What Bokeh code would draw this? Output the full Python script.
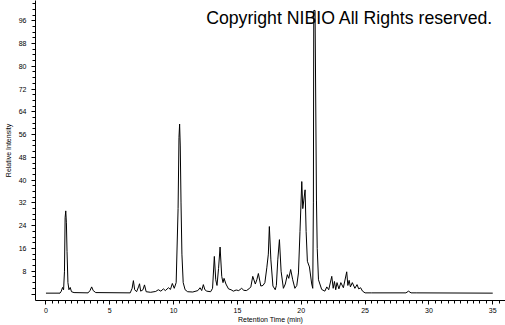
from bokeh.plotting import figure
from bokeh.models import Range1d, FixedTicker, Label, ColumnDataSource
from bokeh.embed import file_html
from bokeh.resources import INLINE

# Chromatogram trace: retention time (min) and relative intensity
time_min = [0.0, 1.1, 1.2, 1.3, 1.38, 1.45, 1.5, 1.55, 1.6, 1.65, 1.72, 1.8, 1.9, 2.0, 2.2,
            3.3, 3.45, 3.58, 3.7, 3.9, 6.6, 6.75, 6.85, 6.95, 7.1, 7.25, 7.33, 7.42, 7.6, 7.72,
            7.85, 8.2, 8.6, 8.8, 9.0, 9.2, 9.35, 9.6, 9.75, 9.9, 10.05, 10.2, 10.35, 10.42,
            10.47, 10.52, 10.58, 10.65, 10.75, 10.9, 11.1, 11.5, 11.9, 12.07, 12.2, 12.33,
            12.45, 12.6, 12.9, 13.05, 13.19, 13.3, 13.4, 13.52, 13.64, 13.77, 13.87, 13.95,
            14.1, 14.3, 14.5, 14.68, 14.9, 15.1, 15.33, 15.5, 15.7, 15.9, 16.05, 16.2, 16.4,
            16.52, 16.64, 16.83, 17.0, 17.15, 17.3, 17.42, 17.5, 17.62, 17.78, 17.96, 18.05,
            18.16, 18.29, 18.42, 18.6, 18.75, 18.91, 19.02, 19.17, 19.33, 19.5, 19.65, 19.78,
            19.9, 20.04, 20.12, 20.2, 20.3, 20.38, 20.48, 20.64, 20.82, 20.9, 20.95, 20.98,
            21.08, 21.19, 21.25, 21.35, 21.6, 21.85, 22.0, 22.15, 22.39, 22.5, 22.6, 22.7,
            22.8, 22.95, 23.1, 23.3, 23.56, 23.65, 23.75, 23.85, 24.0, 24.2, 24.37, 24.5,
            24.65, 24.8, 25.0, 25.5, 28.2, 28.4, 28.6, 29.0, 35.0]
rel_intensity = [0.3, 0.3, 1.0, 2.3, 1.5, 8.0, 26.8, 29.2, 25.0, 15.0, 4.0, 1.5, 2.3, 0.8, 0.5,
                 0.4, 1.2, 2.5, 1.2, 0.5, 0.4, 2.0, 4.7, 1.5, 0.8, 2.5, 3.6, 1.0, 1.5, 3.2,
                 0.8, 0.6, 0.9, 1.5, 1.0, 1.8, 1.2, 2.2, 1.6, 3.7, 2.0, 4.0, 30.0, 55.0,
                 59.7, 52.0, 32.0, 14.0, 4.0, 1.5, 0.8, 0.7, 1.2, 2.2, 1.2, 3.3,
                 1.5, 1.0, 0.8, 2.0, 13.2, 5.0, 3.0, 9.0, 16.5, 6.2, 4.0, 5.5,
                 3.5, 1.8, 1.5, 1.0, 1.4, 1.2, 2.0, 1.3, 1.2, 1.8, 2.5, 6.2, 3.5,
                 5.0, 7.2, 2.8, 3.0, 4.0, 9.2, 14.0, 23.7, 12.0, 2.8, 1.5, 3.0,
                 12.0, 19.1, 8.0, 2.0, 3.5, 6.8, 5.5, 8.6, 5.0, 2.0, 3.0, 7.4,
                 22.0, 39.5, 30.0, 33.0, 36.6, 22.0, 11.5, 9.5, 3.5, 2.0, 32.0, 99.6,
                 99.6, 33.0, 16.0, 5.0, 1.6, 1.0, 2.5, 1.5, 6.2, 2.0, 4.4, 1.5,
                 4.0, 1.8, 4.0, 2.2, 7.8, 3.0, 4.8, 2.5, 4.0, 2.0, 3.3, 1.8,
                 2.2, 1.0, 0.4, 0.4, 0.4, 1.0, 0.4, 0.4, 0.3]

x_major = [0, 5, 10, 15, 20, 25, 30, 35]
x_minor = [i * 0.5 for i in range(0, 73)]
y_major = [0, 8, 16, 24, 32, 40, 48, 56, 64, 72, 80, 88, 96]
y_minor = [i * 2 for i in range(0, 52)]

p = figure(width=505, height=325, output_backend="svg", toolbar_location=None,
           x_range=Range1d(-0.82, 36.0), y_range=Range1d(-2.28, 103.1),
           min_border_left=35, min_border_bottom=24, min_border_top=0, min_border_right=0)
p.outline_line_color = None
p.background_fill_color = "white"
p.border_fill_color = "white"
p.xgrid.grid_line_color = None
p.ygrid.grid_line_color = None

src = ColumnDataSource(data=dict(t=time_min, i=rel_intensity))
p.line("t", "i", source=src, line_color="black", line_width=1)

font = "Liberation Sans"
p.xaxis.ticker = FixedTicker(ticks=x_major, minor_ticks=x_minor)
p.yaxis.ticker = FixedTicker(ticks=y_major, minor_ticks=y_minor)
p.yaxis.major_label_overrides = {0: ""}
for ax in (p.xaxis[0], p.yaxis[0]):
    ax.axis_line_color = "black"
    ax.major_tick_line_color = "black"
    ax.minor_tick_line_color = "black"
    ax.major_tick_in = 0
    ax.minor_tick_in = 0
    ax.major_tick_out = 4
    ax.minor_tick_out = 3
    ax.major_label_text_font = font
    ax.major_label_text_font_size = "7px"
    ax.major_label_text_color = "black"
    ax.axis_label_text_font = font
    ax.axis_label_text_font_size = "7px"
    ax.axis_label_text_font_style = "normal"
    ax.axis_label_text_color = "black"

p.xaxis.axis_label = "Retention Time (min)"
p.yaxis.axis_label = "Relative Intensity"
p.xaxis.major_label_standoff = 3
p.xaxis.axis_label_standoff = 0
p.yaxis.major_label_standoff = 5
p.yaxis.axis_label_standoff = 4

p.add_layout(Label(x=12.55, y=97.0, text="Copyright NIBIO All Rights reserved.",
                   text_font=font, text_font_size="17.7px", text_color="black",
                   text_align="left", text_baseline="alphabetic"))

open("out.html", "w").write(file_html(p, INLINE))
